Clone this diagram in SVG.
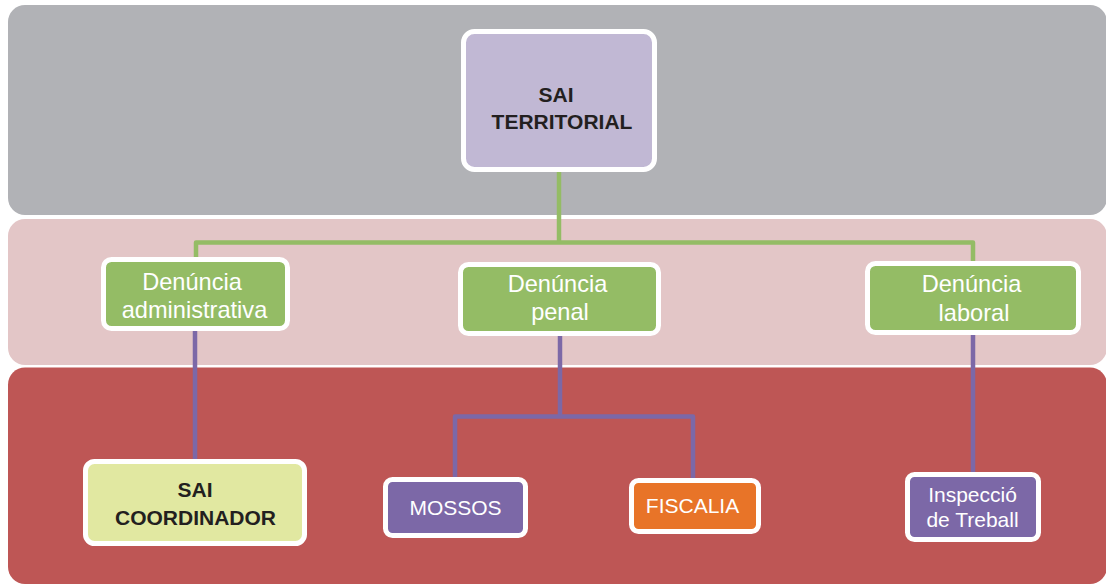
<svg xmlns="http://www.w3.org/2000/svg" width="1106" height="584" viewBox="0 0 1106 584">
  <style>
    .band { stroke: none; }
    .node { stroke: #ffffff; stroke-width: 5; }
    .green { fill: #94bc65; }
    .purple { fill: #7c68a7; }
    .orange { fill: #e87428; }
    .lav { fill: #c1b8d4; }
    .yel { fill: #e1e8a1; }
    .t { font-family: "Liberation Sans", Arial, sans-serif; text-anchor: middle; }
    .w { fill: #ffffff; }
    .d { font-size: 23.6px; }
    .b { fill: #231f20; font-weight: bold; font-size: 21px; }
    .gl { fill: none; stroke: #94bc65; stroke-width: 4.5; stroke-linejoin: round; }
    .pl { fill: none; stroke: #7c68a7; stroke-width: 4.5; stroke-linejoin: round; }
  </style>
  <rect width="1106" height="584" fill="#ffffff"/>
  <g id="bands">
    <rect class="band" x="8" y="5" width="1099" height="210" rx="17" fill="#b1b2b6"/>
    <rect class="band" x="8" y="219" width="1099" height="146" rx="17" fill="#e3c6c7"/>
    <rect class="band" x="8" y="367.5" width="1099" height="216.5" rx="17" fill="#be5655"/>
  </g>
  <g id="connectors">
    <path class="gl" d="M559,172 V242.5"/>
    <path class="gl" d="M196,259 V242.5 H973 V262"/>
    <path class="pl" d="M195,331 V461"/>
    <path class="pl" d="M560,336 V416.5"/>
    <path class="pl" d="M455,479 V416.5 H693 V480"/>
    <path class="pl" d="M973,335 V474"/>
  </g>
  <g id="sai-territorial">
    <rect class="node lav" x="463.5" y="31.5" width="191" height="138" rx="11"/>
    <text class="t b" x="556" y="102">SAI</text>
    <text class="t b" x="562" y="129">TERRITORIAL</text>
  </g>
  <g id="denuncia-administrativa">
    <rect class="node green" x="103.5" y="259.5" width="184" height="69" rx="8"/>
    <text class="t w d" x="192" y="290">Denúncia</text>
    <text class="t w d" x="194.5" y="318">administrativa</text>
  </g>
  <g id="denuncia-penal">
    <rect class="node green" x="460.5" y="264.5" width="198" height="69" rx="8"/>
    <text class="t w d" x="557.5" y="292">Denúncia</text>
    <text class="t w d" x="560" y="320">penal</text>
  </g>
  <g id="denuncia-laboral">
    <rect class="node green" x="867.5" y="263.5" width="211" height="69" rx="8"/>
    <text class="t w d" x="971.5" y="292">Denúncia</text>
    <text class="t w d" x="974" y="321">laboral</text>
  </g>
  <g id="sai-coordinador">
    <rect class="node yel" x="85.5" y="461.5" width="219" height="82" rx="9"/>
    <text class="t b" x="195" y="497">SAI</text>
    <text class="t b" x="195.5" y="525">COORDINADOR</text>
  </g>
  <g id="mossos">
    <rect class="node purple" x="385.5" y="479.5" width="140" height="56" rx="7"/>
    <text class="t w" font-size="21" x="455.5" y="515">MOSSOS</text>
  </g>
  <g id="fiscalia">
    <rect class="node orange" x="631.5" y="480.5" width="127" height="51" rx="7"/>
    <text class="t w" font-size="21" x="692.5" y="513">FISCALIA</text>
  </g>
  <g id="inspeccio-treball">
    <rect class="node purple" x="907.5" y="474.5" width="131" height="65" rx="7"/>
    <text class="t w" font-size="21" x="972.5" y="502">Inspecció</text>
    <text class="t w" font-size="21" x="972.5" y="527">de Treball</text>
  </g>
</svg>
